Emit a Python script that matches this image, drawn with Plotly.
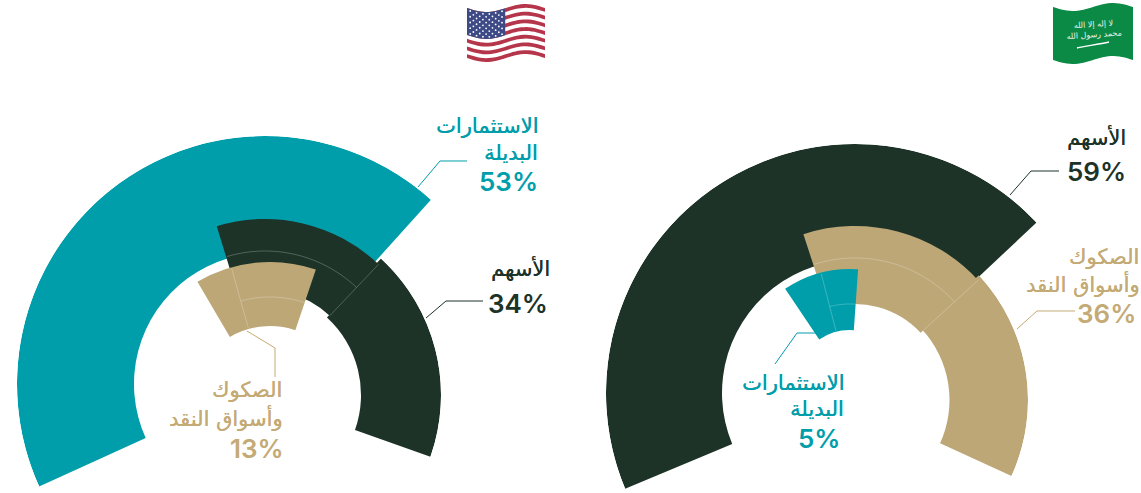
import base64, math
import numpy as np
import plotly.graph_objects as go

W, H = 1141, 493
TEAL, DARK, TAN = "#009EAB", "#1D3327", "#BDA777"
TAN_TXT = "#C4AA74"

# ---- data ----
names_equity = "الأسهم"
names_sukuk = ["الصكوك", "وأسواق النقد"]
names_alt = ["الاستثمارات", "البديلة"]

usa_values = {"alt": 53, "equity": 34, "sukuk": 13}
ksa_values = {"equity": 59, "sukuk": 36, "alt": 5}

# sectors: clock-angle start, clock-angle end, inner radius, outer radius, colour
usa_big = [(-114.4, 42, 131, 248, TEAL)]
usa_side = [(42.5, 109.5, 105, 185, DARK)]
usa_band = [(-17, 43.5, 94, 165, DARK)]
usa_core = [(-30.5, 18.7, 79, 143, TAN)]

ksa_big = [(-112.6, 46.8, 133, 249, DARK)]
ksa_side = [(47, 114.5, 104.5, 183, TAN)]
ksa_band = [(-18, 47.5, 89, 167, TAN)]
ksa_core = [(-34, 4, 55, 116, TEAL)]

usa_band_thin = [("arc", -16.5, 43.5, 133), ("ray", 43.5, 94, 165)]
usa_core_thin = [("arc", -15.7, 18.7, 108), ("ray", -15.7, 80, 142)]
ksa_band_thin = [("arc", -17.5, 47.5, 135), ("ray", 47.5, 93, 167)]
ksa_core_thin = [("arc", -14.5, 4, 81), ("ray", -14.5, 56, 115)]

USA_C, USA_SIDE_C, USA_CORE_C = (265, 384), (256, 395), (270, 405)
KSA_C, KSA_SIDE_C, KSA_CORE_C = (855, 393), (845, 400), (850, 385)

HAIR = "rgba(255,255,255,0.3)"


def domain(cx, cy, R, sector):
    angs = [sector[0], sector[1]] + [a for a in (-360, -270, -180, -90, 0, 90, 180, 270, 360) if sector[0] <= a <= sector[1]]
    xs = [math.cos(math.radians(a)) for a in angs] + [0]
    ys = [math.sin(math.radians(a)) for a in angs] + [0]
    return dict(
        x=[(cx + min(xs) * R) / W, (cx + max(xs) * R) / W],
        y=[1 - (cy - min(ys) * R) / H, 1 - (cy - max(ys) * R) / H],
    )


fig = go.Figure()
layout_polar = {}
count = 0


def add_polar(center, R, sector, sectors, thin=()):
    global count
    count += 1
    key = "polar" if count == 1 else f"polar{count}"
    layout_polar[key] = dict(
        domain=domain(center[0], center[1], R, sector),
        sector=sector,
        bgcolor="rgba(0,0,0,0)",
        radialaxis=dict(range=[0, R], visible=False),
        angularaxis=dict(visible=False, direction="clockwise", rotation=90, thetaunit="degrees"),
        barmode="overlay",
    )
    for s, e, r0, r1, col in sectors:
        fig.add_trace(go.Barpolar(
            theta=[(s + e) / 2], width=[e - s], base=[r0], r=[r1 - r0],
            marker=dict(color=col, line=dict(width=0)), subplot=key, showlegend=False,
        ))
    for item in thin:
        if item[0] == "arc":
            th = np.linspace(item[1], item[2], 40)
            rr = np.full(40, item[3])
        else:
            th = [item[1], item[1]]
            rr = [item[2], item[3]]
        fig.add_trace(go.Scatterpolar(
            theta=th, r=rr, mode="lines", line=dict(color=HAIR, width=0.8),
            subplot=key, showlegend=False, hoverinfo="skip",
        ))


add_polar(USA_C, 248, [-5, 205], usa_big)
add_polar(USA_SIDE_C, 185, [-30, 90], usa_side)
add_polar(USA_C, 170, [0, 180], usa_band, usa_band_thin)
add_polar(USA_CORE_C, 150, [0, 180], usa_core, usa_core_thin)
add_polar(KSA_C, 249, [-5, 203], ksa_big)
add_polar(KSA_SIDE_C, 183, [-30, 90], ksa_side)
add_polar(KSA_C, 170, [0, 180], ksa_band, ksa_band_thin)
add_polar(KSA_CORE_C, 150, [0, 180], ksa_core, ksa_core_thin)

shapes = []


def leader(points, colour):
    path = "M " + " L ".join(f"{x / W:.5f},{1 - y / H:.5f}" for x, y in points)
    shapes.append(dict(type="path", xref="paper", yref="paper", path=path,
                       line=dict(color=colour, width=1), layer="above"))


leader([(418, 187), (440, 161), (467, 161)], TEAL)
leader([(426, 318), (446, 301), (483, 301)], DARK)
leader([(247, 331), (275, 348), (275, 377)], TAN_TXT)
leader([(1010, 195), (1031, 171), (1059, 171)], DARK)
leader([(1017, 329), (1037, 311), (1075, 311)], TAN_TXT)
leader([(816, 333), (797, 333), (775, 364)], TEAL)

annotations = []


def label(text, x, y, colour, pct=False):
    font = dict(family="Inter, DejaVu Sans", size=26, color=colour, weight=600) if pct else \
        dict(family="DejaVu Sans", size=21, color=colour, shadow=f"0.35px 0 0 {colour}")
    annotations.append(dict(
        text=text, x=(x + 3) / W, y=1 - y / H, xref="paper", yref="paper",
        xanchor="right", yanchor="middle", showarrow=False, font=font,
    ))


label(names_alt[0], 537, 126, TEAL)
label(names_alt[1], 537, 153, TEAL)
label(f"{usa_values['alt']}%", 537, 181, TEAL, True)
label(names_equity, 549, 269, DARK)
label(f"{usa_values['equity']}%", 547, 303, DARK, True)
label(names_sukuk[0], 281, 390, TAN_TXT)
label(names_sukuk[1], 281, 418, TAN_TXT)
label(f"{usa_values['sukuk']}%", 283, 448, TAN_TXT, True)
label(names_equity, 1125, 138, DARK)
label(f"{ksa_values['equity']}%", 1125, 171, DARK, True)
label(names_sukuk[0], 1138, 257, TAN_TXT)
label(names_sukuk[1], 1138, 284, TAN_TXT)
label(f"{ksa_values['sukuk']}%", 1135, 313, TAN_TXT, True)
label(names_alt[0], 843, 383, TEAL)
label(names_alt[1], 843, 409, TEAL)
label(f"{ksa_values['alt']}%", 839, 438, TEAL, True)


def wave(u):
    return 4.0 * math.sin(2 * math.pi * u)


def band(w, h, v0, v1, u1=1.0, y_top=6):
    us = np.linspace(0, u1, 30)
    top = [(u * w + 1, y_top + v0 * h + wave(u)) for u in us]
    bot = [(u * w + 1, y_top + v1 * h + wave(u)) for u in us[::-1]]
    return "M" + " L".join(f"{x:.2f},{y:.2f}" for x, y in top + bot) + "Z"


def svg(parts, w, h):
    s = f'<svg xmlns="http://www.w3.org/2000/svg" width="{w}" height="{h}" viewBox="0 0 {w} {h}">' + "".join(parts) + "</svg>"
    return "data:image/svg+xml;base64," + base64.b64encode(s.encode()).decode()


def us_flag():
    w, h = 78, 50
    parts = [f'<path d="{band(w, h, 0, 1)}" fill="#ffffff"/>']
    for i in range(0, 13, 2):
        parts.append(f'<path d="{band(w, h, i / 13, (i + 1) / 13)}" fill="#B5354A"/>')
    parts.append(f'<path d="{band(w, h, 0, 7 / 13, 0.49)}" fill="#3D4A86"/>')
    for row in range(9):
        n = 6 if row % 2 == 0 else 5
        for c in range(n):
            u = (c + (0.5 if row % 2 == 0 else 1.0)) * 0.49 / 6
            v = (row + 0.7) / 9.4 * 7 / 13
            parts.append(f'<circle cx="{u * w + 1:.2f}" cy="{6 + v * h + wave(u):.2f}" r="0.9" fill="#ffffff"/>')
    return svg(parts, w + 2, h + 12)


def sa_flag():
    w, h = 80, 53
    parts = [f'<path d="{band(w, h, 0, 1)}" fill="#0B8A45"/>']
    parts.append('<path d="M 25,47 C 35,45 48,43 57,41" stroke="#ffffff" stroke-width="1.3" fill="none"/>')
    return svg(parts, w + 2, h + 12)


images = [
    dict(source=us_flag(), xref="paper", yref="paper", x=466 / W, y=1 - 2 / H, sizex=80 / W, sizey=62 / H,
         xanchor="left", yanchor="top", sizing="stretch", layer="above"),
    dict(source=sa_flag(), xref="paper", yref="paper", x=1052 / W, y=1 - 1 / H, sizex=82 / W, sizey=65 / H,
         xanchor="left", yanchor="top", sizing="stretch", layer="above"),
]
annotations.append(dict(text="لا إله إلا الله<br>محمد رسول الله", x=1093 / W, y=1 - 29 / H, xref="paper", yref="paper",
                        xanchor="center", yanchor="middle", showarrow=False, textangle=-4,
                        font=dict(family="DejaVu Sans", size=8, color="#E8F3EC")))

fig.update_layout(
    width=W, height=H, margin=dict(l=0, r=0, t=0, b=0), paper_bgcolor="white", plot_bgcolor="white",
    showlegend=False, shapes=shapes, annotations=annotations, images=images, **layout_polar,
)
fig.write_html("out.html", config={"displayModeBar": False},
               post_script="document.body.style.margin='0';document.documentElement.style.overflow='hidden';")
